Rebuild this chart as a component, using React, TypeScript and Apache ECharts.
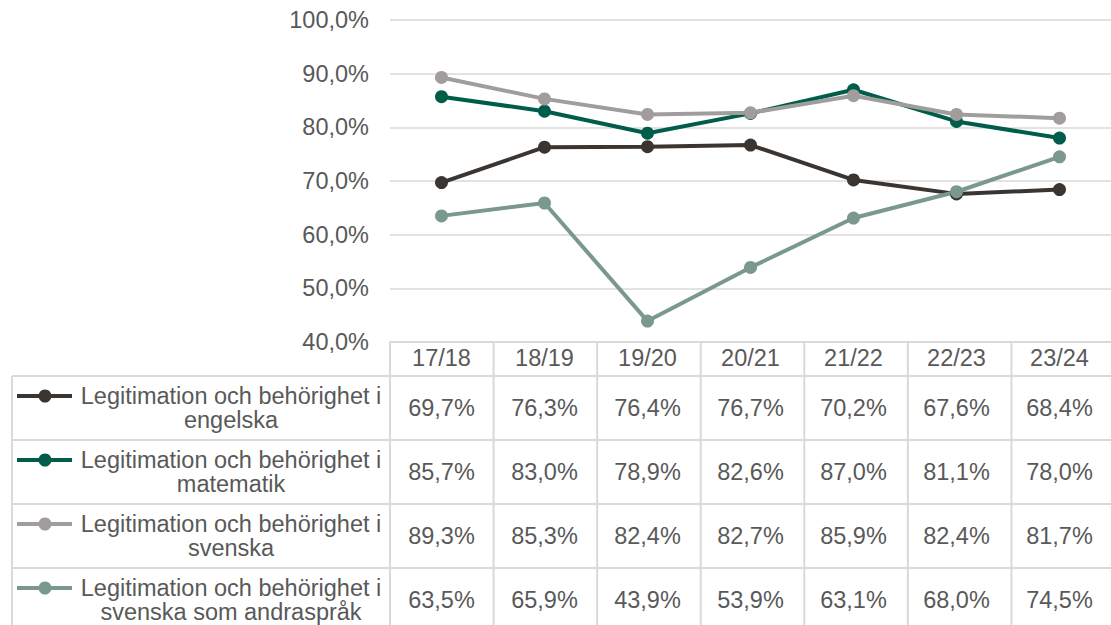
import React, { useEffect, useRef } from "react";
import * as echarts from "echarts";

const categories = ["17/18", "18/19", "19/20", "20/21", "21/22", "22/23", "23/24"];
const seriesNames = [
  "Legitimation och behörighet i engelska",
  "Legitimation och behörighet i matematik",
  "Legitimation och behörighet i svenska",
  "Legitimation och behörighet i svenska som andraspråk",
];
const engelska = [69.7, 76.3, 76.4, 76.7, 70.2, 67.6, 68.4];
const matematik = [85.7, 83.0, 78.9, 82.6, 87.0, 81.1, 78.0];
const svenska = [89.3, 85.3, 82.4, 82.7, 85.9, 82.4, 81.7];
const andrasprak = [63.5, 65.9, 43.9, 53.9, 63.1, 68.0, 74.5];
const seriesValues = [engelska, matematik, svenska, andrasprak];
const colors = ["#3b3531", "#005c4b", "#a19d9c", "#7a998c"];
const yTicks = { min: 40, max: 100, interval: 10 };

const fmt = (v: number) => v.toFixed(1).replace(".", ",") + "%";
const FONT = "Liberation Sans, Arial, sans-serif";
const FS = 23.5;
const TXT = "#595959";
const LINE = "#d9d9d9";

export default function App() {
  const ref = useRef<HTMLDivElement>(null);
  useEffect(() => {
    const chart = echarts.init(ref.current!, undefined, { renderer: "svg" });
    const gridLeft = 390;
    const gridTop = 20;
    const gridBottomY = 342;
    const gridWidth = 725;
    chart.setOption({
      animation: false,
      textStyle: { fontFamily: FONT },
      grid: { left: gridLeft, top: gridTop, width: gridWidth, height: gridBottomY - gridTop, containLabel: false },
      xAxis: {
        type: "category",
        data: categories,
        boundaryGap: true,
        axisLine: { show: true, lineStyle: { color: LINE, width: 2 } },
        axisTick: { show: false },
        axisLabel: { color: TXT, fontSize: FS, fontFamily: FONT, margin: 4 },
      },
      yAxis: {
        type: "value",
        min: yTicks.min,
        max: yTicks.max,
        interval: yTicks.interval,
        axisLine: { show: false },
        axisTick: { show: false },
        splitLine: { lineStyle: { color: LINE, width: 1.5 } },
        axisLabel: { color: TXT, fontSize: FS, fontFamily: FONT, margin: 21, formatter: (v: number) => fmt(v) },
      },
      series: seriesValues.map((vals, i) => ({
        type: "line",
        name: seriesNames[i],
        data: vals,
        color: colors[i],
        symbol: "circle",
        symbolSize: 13,
        lineStyle: { width: 4, color: colors[i] },
        itemStyle: { color: colors[i] },
      })),
    });

    const W = 1111;
    const H = 625;
    const rowTop0 = 376;
    const rowH = 64;
    const colW = gridWidth / categories.length;
    const g: any[] = [];
    const hline = (x1: number, x2: number, y: number) =>
      g.push({ type: "line", shape: { x1, y1: y, x2, y2: y }, style: { stroke: LINE, lineWidth: 2 }, silent: true });
    const vline = (x: number, y1: number, y2: number) =>
      g.push({ type: "line", shape: { x1: x, y1, x2: x, y2 }, style: { stroke: LINE, lineWidth: 2 }, silent: true });

    for (let r = 0; r < seriesNames.length; r++) hline(12, W, rowTop0 + r * rowH);
    vline(12, rowTop0, H);
    for (let k = 0; k < categories.length; k++) vline(gridLeft + k * colW, gridBottomY, H);

    seriesNames.forEach((name, r) => {
      const cy = rowTop0 + r * rowH + rowH / 2;
      const ky = cy - 12;
      g.push({ type: "line", shape: { x1: 17, y1: ky, x2: 72, y2: ky }, style: { stroke: colors[r], lineWidth: 4 }, silent: true });
      g.push({ type: "circle", shape: { cx: 45, cy: ky, r: 6.5 }, style: { fill: colors[r] }, silent: true });
      const idx = name.indexOf("behörighet i") + "behörighet i".length;
      const label = name.slice(0, idx) + "\n" + name.slice(idx + 1);
      g.push({
        type: "text",
        x: 231,
        y: cy,
        style: { text: label, fill: TXT, font: `${FS}px ${FONT}`, align: "center", verticalAlign: "middle", lineHeight: 24 },
        silent: true,
      });
      seriesValues[r].forEach((v, i) => {
        const px = chart.convertToPixel({ xAxisIndex: 0 }, i) as number;
        g.push({
          type: "text",
          x: px,
          y: cy,
          style: { text: fmt(v), fill: TXT, font: `${FS}px ${FONT}`, align: "center", verticalAlign: "middle" },
          silent: true,
        });
      });
    });
    chart.setOption({ graphic: g });
    return () => chart.dispose();
  }, []);
  return <div ref={ref} style={{ width: 1111, height: 625, position: "absolute", left: 0, top: 0 }} />;
}
